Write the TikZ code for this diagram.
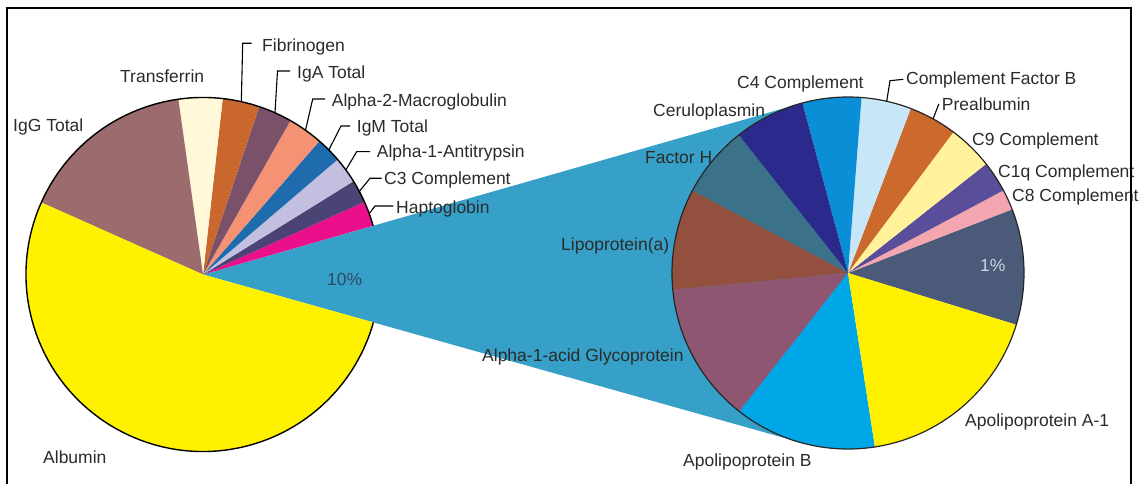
\documentclass[tikz,border=0pt]{standalone}
\usepackage{fontspec}
\setmainfont{Liberation Sans}
\usetikzlibrary{calc}
\definecolor{txt}{HTML}{2B2B2B}
% left pie
\definecolor{cAlb}{HTML}{FFF200}
\definecolor{cIgG}{HTML}{9C6B6D}
\definecolor{cTf}{HTML}{FFF9DA}
\definecolor{cFib}{HTML}{C9672F}
\definecolor{cIgA}{HTML}{7B5169}
\definecolor{cAtwoM}{HTML}{F49273}
\definecolor{cIgM}{HTML}{1E6CAE}
\definecolor{cAoneAT}{HTML}{C3BFE0}
\definecolor{cCthree}{HTML}{4B4373}
\definecolor{cHap}{HTML}{EC0F8C}
\definecolor{cTeal}{HTML}{36A0C8}
% right pie
\definecolor{cSlate}{HTML}{4A5A78}
\definecolor{cCeight}{HTML}{F4A6B0}
\definecolor{cConeq}{HTML}{5A4E9A}
\definecolor{cCnine}{HTML}{FFF29A}
\definecolor{cPre}{HTML}{CC6A2E}
\definecolor{cCFB}{HTML}{C7E6F7}
\definecolor{cCfour}{HTML}{0A8ED6}
\definecolor{cCer}{HTML}{2B2A8C}
\definecolor{cFH}{HTML}{3B7189}
\definecolor{cLpa}{HTML}{94503E}
\definecolor{cAoneAG}{HTML}{8E5670}
\definecolor{cApoB}{HTML}{00A7E6}
\definecolor{cApoA}{HTML}{FFF000}
\definecolor{cTenPct}{HTML}{2F4A66}
\definecolor{cOnePct}{HTML}{D0D5E0}
\newcommand\pslice[5]{\fill[#5] (#1) -- ++(#3:#2) arc[start angle=#3, end angle=#4, radius=#2] -- cycle;}
\begin{document}
\begin{tikzpicture}[x=1pt,y=1pt,
  lbl/.style={inner sep=0pt, anchor=base west, text=txt, font=\fontsize{17.5}{20}\selectfont},
  leader/.style={draw=black, line width=1.1pt},
  outline/.style={draw=black, line width=1.4pt}]
\useasboundingbox (0,0) rectangle (1144,-484);
\fill[white] (0,0) rectangle (1144,-484);
\coordinate (L) at (203,-274.5);
\coordinate (R) at (848,-273);
% expansion wedge
\fill[cTeal] (L) -- ($(R)+(105.97:176)$) -- (R) -- ($(R)+(254.29:176)$) -- cycle;
% left pie
\pslice{L}{177}{16}{24.2}{cHap}
\pslice{L}{177}{24.2}{31.8}{cCthree}
\pslice{L}{177}{31.8}{40.5}{cAoneAT}
\pslice{L}{177}{40.5}{48.9}{cIgM}
\pslice{L}{177}{48.9}{60.4}{cAtwoM}
\pslice{L}{177}{60.4}{71.5}{cIgA}
\pslice{L}{177}{71.5}{83.6}{cFib}
\pslice{L}{177}{83.6}{98}{cTf}
\pslice{L}{177}{98}{156}{cIgG}
\pslice{L}{177}{156}{344.3}{cAlb}
\draw[outline] ($(L)+(16:177)$) arc[start angle=16, end angle=344.3, radius=177];
% right pie
\pslice{R}{176}{-17.1}{21.2}{cSlate}
\pslice{R}{176}{21.2}{28}{cCeight}
\pslice{R}{176}{28}{38.3}{cConeq}
\pslice{R}{176}{38.3}{53.2}{cCnine}
\pslice{R}{176}{53.2}{69.1}{cPre}
\pslice{R}{176}{69.1}{85.6}{cCFB}
\pslice{R}{176}{85.6}{105}{cCfour}
\pslice{R}{176}{105}{128.4}{cCer}
\pslice{R}{176}{128.4}{152.1}{cFH}
\pslice{R}{176}{152.1}{185.5}{cLpa}
\pslice{R}{176}{185.5}{231.9}{cAoneAG}
\pslice{R}{176}{231.9}{278.8}{cApoB}
\pslice{R}{176}{278.8}{342.9}{cApoA}
\draw[line width=1.2pt, black!85] (R) circle[radius=176];
% left labels
\node[lbl] (tf) at (120,-82.3) {Transferrin};
\node[lbl] (igg) at (13,-131.3) {IgG Total};
\node[lbl] (alb) at (43,-463) {Albumin};
\node[lbl] (fib) at (262,-51.3) {Fibrinogen};
\node[lbl] (iga) at (297,-78.3) {IgA Total};
\node[lbl] (atwom) at (331.7,-106.3) {Alpha-2-Macroglobulin};
\node[lbl] (igm) at (356.7,-132.3) {IgM Total};
\node[lbl] (aoneat) at (376.7,-158) {Alpha-1-Antitrypsin};
\node[lbl] (cthree) at (384,-184.6) {C3 Complement};
\node[lbl] (hap) at (396,-213.3) {Haptoglobin};
\node[lbl, text=cTenPct] (tenpct) at (327,-285.3) {10\%};
% left leaders
\coordinate (fibE) at ($(L)+(77.5:177)$);
\coordinate (igaE) at ($(L)+(66:177)$);
\coordinate (atwomE) at ($(L)+(54.6:177)$);
\coordinate (igmE) at ($(L)+(44.7:177)$);
\coordinate (aoneatE) at ($(L)+(36.2:177)$);
\coordinate (cthreeE) at ($(L)+(28:177)$);
\coordinate (hapE) at ($(L)+(20.1:177)$);
\draw[leader] (fibE) -- (242.7,-43.3) -- (251.7,-43.3);
\draw[leader] (igaE) -- (277.5,-71) -- (290,-71);
\draw[leader] (atwomE) -- (312.7,-99) -- (325,-99);
\draw[leader] (igmE) -- (341,-126) -- (350,-126);
\draw[leader] (aoneatE) -- (356.7,-151.7) -- (370,-151.7);
\draw[leader] (cthreeE) -- (370,-178.3) -- (381.7,-178.3);
\draw[leader] (hapE) -- (375,-206) -- (393.3,-206);
% right labels
\node[lbl] (cfour) at (737,-88.3) {C4 Complement};
\node[lbl] (cfb) at (906,-84.3) {Complement Factor B};
\node[lbl] (pre) at (941.7,-110.3) {Prealbumin};
\node[lbl] (cnine) at (972,-145.3) {C9 Complement};
\node[lbl] (coneq) at (998,-177.3) {C1q Complement};
\node[lbl] (ceight) at (1012,-201.3) {C8 Complement};
\node[lbl] (cer) at (653,-117) {Ceruloplasmin};
\node[lbl] (fh) at (645,-163.3) {Factor H};
\node[lbl] (lpa) at (561,-250.3) {Lipoprotein(a)};
\node[lbl] (aoneag) at (482,-361.3) {Alpha-1-acid Glycoprotein};
\node[lbl] (apob) at (683,-466.3) {Apolipoprotein B};
\node[lbl] (apoa) at (965,-426.3) {Apolipoprotein A-1};
\node[lbl, text=cOnePct] (onepct) at (980,-271.3) {1\%};
% right leaders
\coordinate (cfbE) at ($(R)+(77.3:176)$);
\coordinate (preE) at ($(R)+(61.1:176)$);
\draw[leader] (cfbE) -- (890,-80.7) -- (903.3,-79.3);
\draw[leader] (preE) -- (938.8,-104);
% frame
\draw[line width=2pt] (7,-484) -- (7,-8) -- (1131,-8) -- (1131,-484);
\end{tikzpicture}
\end{document}
